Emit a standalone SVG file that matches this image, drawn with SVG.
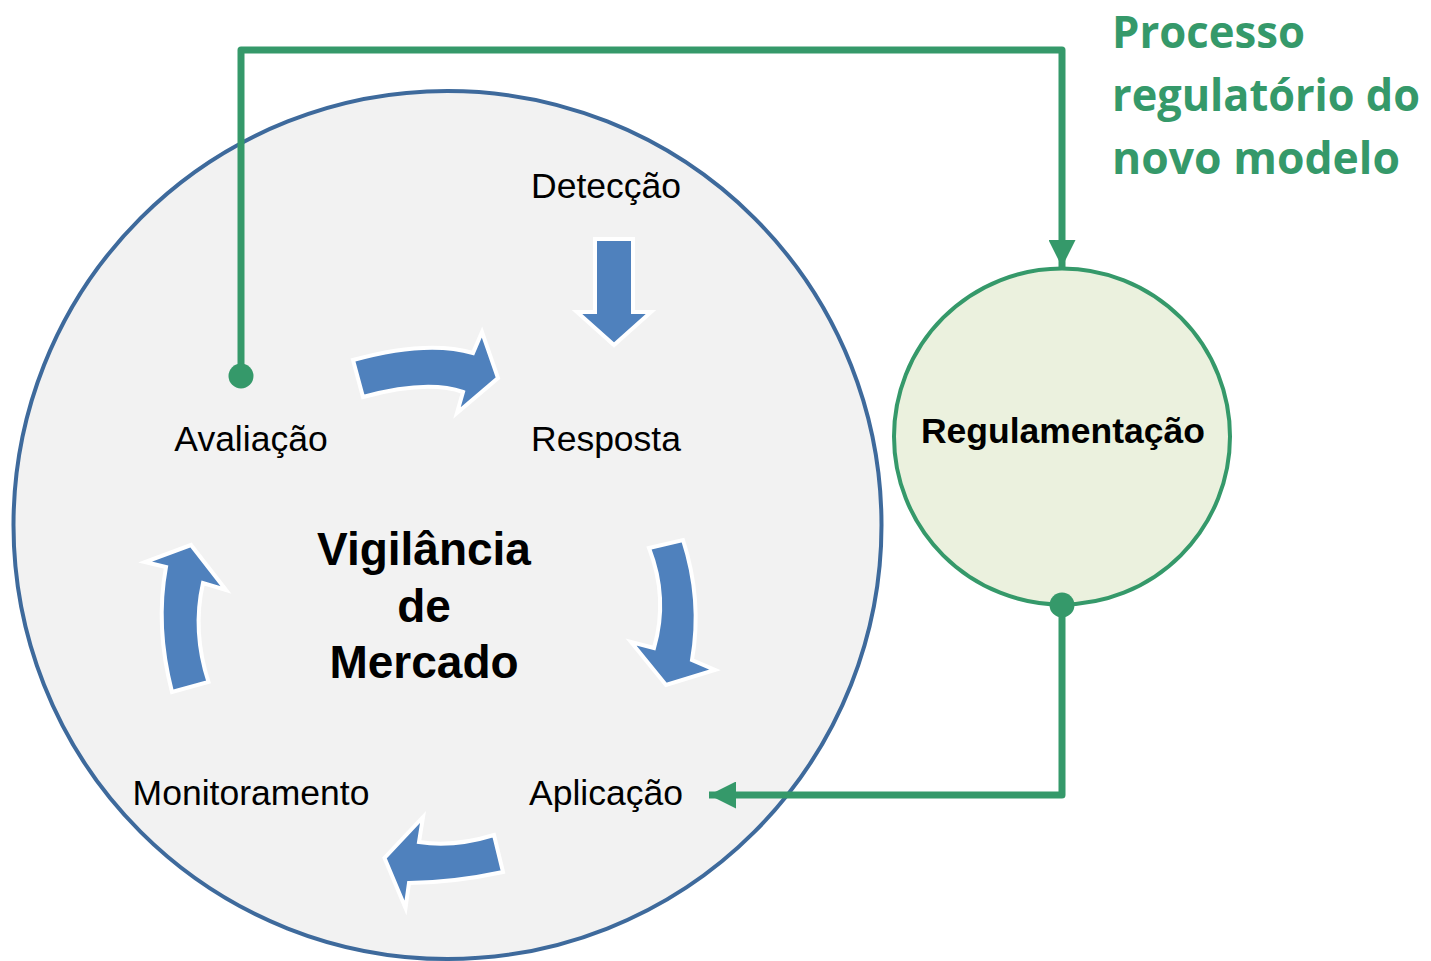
<svg xmlns="http://www.w3.org/2000/svg" width="1431" height="961" viewBox="0 0 1431 961">
<defs>
<style>
.lbl{font-family:"Liberation Sans",Arial,sans-serif;font-size:35.5px;fill:#000;text-anchor:middle}
.big{font-family:"Liberation Sans",Arial,sans-serif;font-size:46px;font-weight:bold;fill:#000;text-anchor:middle}
.reg{font-family:"Liberation Sans",Arial,sans-serif;font-size:35.5px;font-weight:bold;fill:#000;text-anchor:middle}
.ttl{font-family:"Open Sans","Liberation Sans",sans-serif;font-size:44px;font-weight:bold;fill:#35996A}
.barrow{fill:#4F81BD;stroke:#FFFFFF;stroke-width:4;stroke-linejoin:miter}
.conn{fill:none;stroke:#35996A;stroke-width:7;stroke-linejoin:round}
.dot{fill:#35996A}
</style>
<marker id="ah" markerUnits="userSpaceOnUse" markerWidth="27" markerHeight="27" viewBox="0 0 27 27" refX="27" refY="13.5" orient="auto">
<path d="M0,0 L27,13.5 L0,27 Z" fill="#35996A"/>
</marker>
</defs>
<rect width="1431" height="961" fill="#FFFFFF"/>
<g id="vigilancia">
<circle cx="447.5" cy="525" r="434" fill="#F2F2F2" stroke="#3E6A9C" stroke-width="4"/>
<text class="big" x="424" y="565">Vigilância</text>
<text class="big" x="424" y="622">de</text>
<text class="big" x="424" y="678">Mercado</text>
</g>
<g id="ciclo">
<path class="barrow" d="M595,239 L633,239 L633,312 L651,312 L614,345 L577,312 L595,312 Z"/>
<path class="barrow" d="M353,360 Q427,339.5 473,353 L482,332 L498,378 L457,413 L463,392 Q427,379.5 363,397 Z"/>
<path class="barrow" d="M649,548 Q668.5,598 654,648 L631,642 L666,685 L715,670 L692,660 Q702.5,600 683,540 Z"/>
<path class="barrow" d="M494,835 Q453.5,847.5 419,842 L423,817 L384.5,858 L405.5,908 L409,883 Q454,882.5 503,872 Z"/>
<path class="barrow" d="M172,692 Q155,626.5 166,567 L145,562 L191,545 L226,590 L203,583 Q192,631.5 208.5,682 Z"/>
</g>
<g id="deteccao"><text class="lbl" x="606" y="198">Detecção</text></g>
<g id="resposta"><text class="lbl" x="606" y="451">Resposta</text></g>
<g id="avaliacao"><text class="lbl" x="251" y="451">Avaliação</text></g>
<g id="monitoramento"><text class="lbl" x="251" y="805">Monitoramento</text></g>
<g id="aplicacao"><text class="lbl" x="606" y="805">Aplicação</text></g>
<g id="regulamentacao">
<circle cx="1062" cy="436.5" r="168" fill="#EBF1DE" stroke="#35996A" stroke-width="4"/>
<text class="reg" x="1063" y="443">Regulamentação</text>
</g>
<g id="connectors">
<path class="conn" d="M241,376 L241,50 L1062,50 L1062,267" marker-end="url(#ah)"/>
<circle class="dot" cx="241" cy="376" r="12.5"/>
<path class="conn" d="M1062,605 L1062,795 L709,795" marker-end="url(#ah)"/>
<circle class="dot" cx="1062" cy="605" r="12.5"/>
</g>
<g id="titulo">
<text class="ttl" x="1112" y="48" textLength="193" lengthAdjust="spacingAndGlyphs">Processo</text>
<text class="ttl" x="1112" y="111" textLength="308" lengthAdjust="spacingAndGlyphs">regulatório do</text>
<text class="ttl" x="1112" y="174" textLength="288" lengthAdjust="spacingAndGlyphs">novo modelo</text>
</g>
</svg>
